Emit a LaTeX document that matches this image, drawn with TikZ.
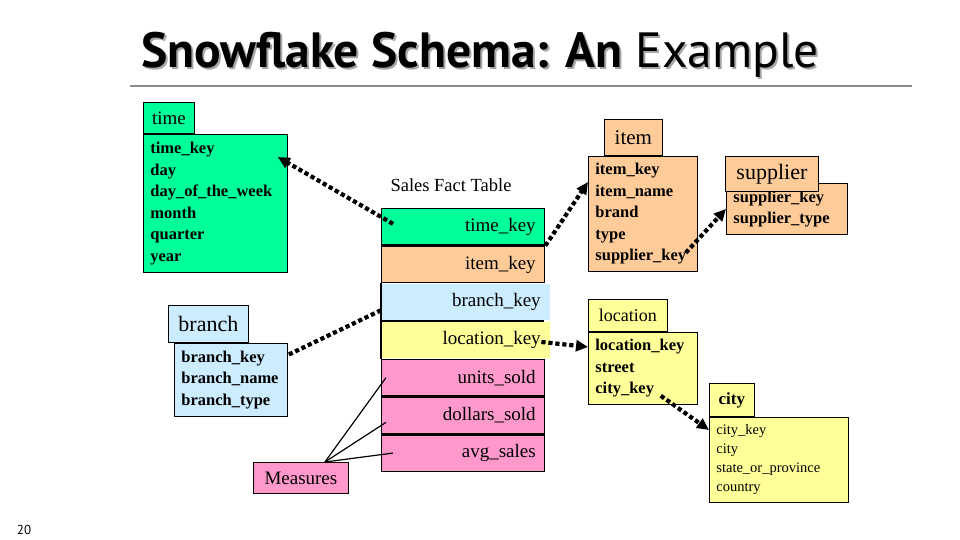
\documentclass[tikz,border=0pt]{standalone}
\usepackage{fontspec}
\setmainfont{Liberation Serif}
\newfontfamily\titleFont{PT Sans}
\usetikzlibrary{calc, positioning, arrows.meta}

\begin{document}
\begin{tikzpicture}[x=1pt, y=-1pt,
    titleText/.style={anchor=base, inner sep=0pt, font=\titleFont\fontsize{49.5}{52}\selectfont},
    tabBox/.style={draw=black, line width=0.8pt, inner sep=0pt, anchor=south west, font=\fontsize{#1}{#1}\selectfont},
    dimBox/.style={draw=black, line width=0.8pt, anchor=north west, inner xsep=7pt, inner ysep=0pt, align=left, font=\fontsize{16.5}{21.5}\selectfont\bfseries},
    factRow/.style={draw=black, line width=1.4pt, minimum width=163pt, minimum height=36.3pt, anchor=north west, inner xsep=9pt, text width=145pt, align=right, font=\fontsize{19}{21}\selectfont},
    factOpen/.style={factRow, draw=none, minimum width=168pt, text width=150pt},
    rowRule/.style={line width=1.4pt},
    keyArrow/.style={line width=4.2pt, dash pattern=on 4.2pt off 2.8pt, -{Triangle[length=12pt,width=11pt]}},
    keyLine/.style={line width=4.2pt, dash pattern=on 4.2pt off 2.8pt},
    measureLine/.style={line width=1.2pt}
  ]
    % Define colours
    \definecolor{timeColour}{HTML}{00FF99}
    \definecolor{itemColour}{HTML}{FFCC99}
    \definecolor{branchColour}{HTML}{CCECFF}
    \definecolor{locationColour}{HTML}{FFFF99}
    \definecolor{measureColour}{HTML}{FF99CC}

  \useasboundingbox (0,0) rectangle (960,540);

  % Title and rule
  \node[titleText, text=black!35] (titleShadow) at (482,70) {\textbf{Snowflake Schema: An} Example};
  \node[titleText] (title) at (480,68) {\textbf{Snowflake Schema: An} Example};
  \draw[black!45, line width=1.5pt] (130,86) -- (912,86);

  % Dimension tables
  \node[dimBox, fill=timeColour, text width=130pt, minimum height=138pt] (timeBody) at (143,134)
    {time\_key\\day\\day\_of\_the\_week\\month\\quarter\\year};
  \node[tabBox=19, fill=timeColour, minimum width=51pt, minimum height=31pt] (timeTab) at (timeBody.north west) {time};

  \node[dimBox, fill=itemColour, text width=95pt, minimum height=115pt] (itemBody) at (588,156)
    {item\_key\\item\_name\\brand\\type\\supplier\_key};
  \node[tabBox=21, fill=itemColour, minimum width=58pt, minimum height=36pt] (itemTab) at ([xshift=16pt]itemBody.north west) {item};

  \node[dimBox, fill=itemColour, text width=107pt, minimum height=51pt] (supplierBody) at (726,183)
    {supplier\_key\\supplier\_type};
  \node[tabBox=22, fill=itemColour, minimum width=93pt, minimum height=35pt] (supplierTab) at ([xshift=-1pt,yshift=-9pt]supplierBody.north west) {supplier};

  \node[dimBox, fill=locationColour, text width=95pt, minimum height=72pt] (locBody) at (588,332)
    {location\_key\\street\\city\_key};
  \node[tabBox=18, fill=locationColour, minimum width=79pt, minimum height=32pt] (locTab) at (locBody.north west) {location};

  \node[dimBox, fill=locationColour, text width=125pt, minimum height=85pt, font=\fontsize{14.5}{19}\selectfont] (cityBody) at (709,417)
    {city\_key\\city\\state\_or\_province\\country};
  \node[tabBox=17, fill=locationColour, minimum width=45pt, minimum height=33pt, font=\fontsize{17}{17}\selectfont\bfseries] (cityTab) at (cityBody.north west) {city};

  \node[dimBox, fill=branchColour, text width=99pt, minimum height=73pt] (branchBody) at (174,343)
    {branch\_key\\branch\_name\\branch\_type};
  \node[tabBox=22, fill=branchColour, minimum width=80pt, minimum height=37pt] (branchTab) at ([xshift=-6pt]branchBody.north west) {branch};

  % Sales fact table
  \node[font=\fontsize{18.5}{20}\selectfont] (factLabel) at (451,185) {Sales Fact Table};
  \node[factRow, fill=timeColour] (timeRow) at (381,208) {time\_key};
  \node[factRow, fill=itemColour] (itemRow) at (timeRow.south west) {item\_key};
  \node[factOpen, fill=branchColour] (branchRow) at (itemRow.south west) {branch\_key};
  \node[factOpen, fill=locationColour] (locRow) at (branchRow.south west) {location\_key};
  \node[factRow, fill=measureColour] (unitsRow) at (locRow.south west) {units\_sold};
  \node[factRow, fill=measureColour] (dollarsRow) at (unitsRow.south west) {dollars\_sold};
  \node[factRow, fill=measureColour] (avgRow) at (dollarsRow.south west) {avg\_sales};
  \draw[rowRule] (branchRow.north west) -- (locRow.south west);
  \draw[rowRule] (branchRow.south west) -- ++(163,0);

  % Measures
  \node[draw=black, line width=0.8pt, fill=measureColour, anchor=north west, minimum width=95pt, minimum height=31pt, inner sep=0pt, font=\fontsize{19}{21}\selectfont] (measures) at (253,462) {Measures};
  \draw[measureLine] ([xshift=24pt]measures.north) -- ([xshift=5pt]unitsRow.west);
  \draw[measureLine] ([xshift=24pt]measures.north) -- ([xshift=5pt,yshift=-7pt]dollarsRow.west);
  \draw[measureLine] ([xshift=24pt]measures.north) -- ([xshift=12pt]avgRow.west);

  % Foreign keys
  \draw[keyArrow] ([xshift=12pt,yshift=3pt]timeRow.west) -- ([xshift=-10pt,yshift=-23pt]timeBody.north east);
  \draw[keyArrow] (timeRow.south east) -- ([yshift=-26pt]itemBody.north west);
  \draw[keyArrow] ([xshift=-12pt,yshift=19pt]itemBody.south east) -- (supplierBody.west);
  \draw[keyLine] ([yshift=-8pt]branchRow.west) -- ([yshift=-12pt]branchBody.north east);
  \draw[keyArrow] ([xshift=-9pt,yshift=-2pt]locRow.east) -- ([yshift=-15pt]locBody.north west);
  \draw[keyArrow] ([xshift=-37pt,yshift=9pt]locBody.south east) -- ([yshift=-13pt]cityBody.north west);

  % Page number
  \node[font=\titleFont\fontsize{13}{15}\selectfont] (pageNo) at (24,530) {20};
\end{tikzpicture}
\end{document}
